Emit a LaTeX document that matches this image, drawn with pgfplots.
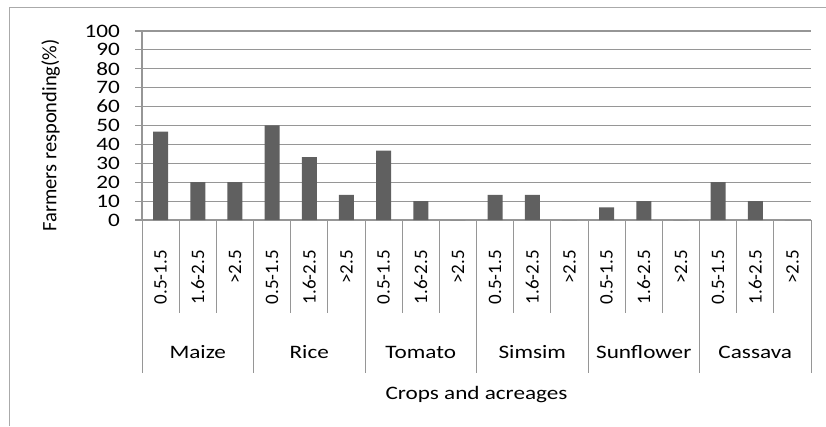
\documentclass[border=0pt]{standalone}
\usepackage{pgfplots}
\pgfplotsset{compat=1.18}
\usepackage{fontspec}
\setmainfont{Carlito}
\newfontfamily\widefont{Carlito}[FakeStretch=1.22]
\definecolor{barfill}{RGB}{96,96,96}
\definecolor{gridgray}{RGB}{150,150,150}
\definecolor{framegray}{RGB}{170,170,170}
\newcommand{\lblfont}{\fontsize{19bp}{22bp}\selectfont}
\newcommand{\hfont}{\widefont\fontsize{19bp}{22bp}\selectfont}
\begin{document}
\begin{tikzpicture}[x=1bp,y=1bp]
\lblfont
\useasboundingbox (0,0) rectangle (826,426);
% chart area frame
\draw[framegray, line width=1bp] (9,0) -- (9,418) -- (830,418);
\begin{axis}[
  at={(142bp,206bp)}, anchor=south west,
  scale only axis, width=669bp, height=189bp,
  xmin=-0.5, xmax=17.5, ymin=0, ymax=100,
  clip=false,
  axis x line*=bottom, axis y line*=left,
  axis line style={gridgray, line width=1.2bp, -},
  ytick={0,10,...,100},
  ymajorgrids, grid style={gridgray, line width=1.2bp},
  tick style={gridgray, line width=1.2bp},
  tick align=outside, major tick length=7bp,
  xtick={0,...,17},
  xtick style={draw=none},
  xticklabels={0.5-1.5,1.6-2.5,>2.5,0.5-1.5,1.6-2.5,>2.5,0.5-1.5,1.6-2.5,>2.5,0.5-1.5,1.6-2.5,>2.5,0.5-1.5,1.6-2.5,>2.5,0.5-1.5,1.6-2.5,>2.5},
  xticklabel style={rotate=90, anchor=east, inner sep=0pt, font=\lblfont},
  xticklabel shift=23bp,
  yticklabel style={anchor=east, inner sep=0pt, font=\hfont},
  yticklabel shift=15bp,
  /pgf/number format/assume math mode=true,
  ylabel={Farmers responding(\%)},
  ylabel style={font=\fontsize{20.5bp}{24bp}\selectfont, xshift=-10bp},
  every axis y label/.append style={yshift=18bp},
  ybar, bar width=15bp,
]
\addplot[fill=barfill, draw=none] coordinates {
  (0,46.7) (1,20) (2,20)
  (3,50) (4,33.3) (5,13.3)
  (6,36.7) (7,10) (8,0)
  (9,13.3) (10,13.3) (11,0)
  (12,6.7) (13,10) (14,0)
  (15,20) (16,10) (17,0)
};
% separators below the axis
\pgfplotsinvokeforeach{0.5,1.5,3.5,4.5,6.5,7.5,9.5,10.5,12.5,13.5,15.5,16.5}{
  \draw[gridgray, line width=1bp] (axis cs:#1,0) -- ([yshift=-93bp]axis cs:#1,0);
}
\pgfplotsinvokeforeach{-0.5,2.5,5.5,8.5,11.5,14.5,17.5}{
  \draw[gridgray, line width=1bp] (axis cs:#1,0) -- ([yshift=-153bp]axis cs:#1,0);
}
% crop names
\node[font=\hfont] at ([yshift=-132bp]axis cs:1,0) {Maize};
\node[font=\hfont] at ([yshift=-132bp]axis cs:4,0) {Rice};
\node[font=\hfont] at ([yshift=-132bp]axis cs:7,0) {Tomato};
\node[font=\hfont] at ([yshift=-132bp]axis cs:10,0) {Simsim};
\node[font=\hfont] at ([yshift=-132bp]axis cs:13,0) {Sunflower};
\node[font=\hfont] at ([yshift=-132bp]axis cs:16,0) {Cassava};
\node[font=\hfont] at ([yshift=-175bp]axis cs:8.5,0) {Crops and acreages};
\end{axis}
\end{tikzpicture}
\end{document}
